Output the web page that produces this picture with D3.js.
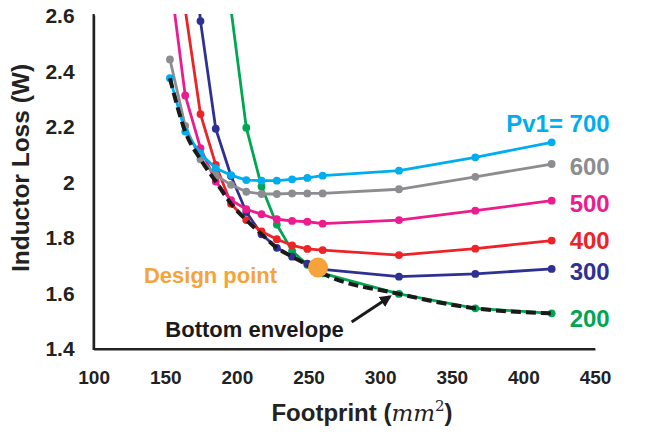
<!DOCTYPE html>
<html><head><meta charset="utf-8">
<script src="https://cdn.jsdelivr.net/npm/d3@7"></script>
<style>
body{margin:0;background:#fff}
svg{display:block}
text{font-family:"Liberation Sans",Arial,sans-serif;font-weight:bold}
</style>
</head><body>
<svg id="c" width="646" height="434"></svg>
<script>
// ---------------- data ----------------
const footprint = [150,160,170,180,190,200,210,220,230,240,250,300,350,400];
const pv700 = [2.372,2.18,2.10,2.048,2.023,2.005,2.003,2.003,2.008,2.013,2.021,2.039,2.087,2.141];
const pv600 = [2.44,2.20,2.08,2.023,1.988,1.963,1.955,1.955,1.957,1.957,1.957,1.972,2.017,2.063];
const pv500 = [2.74,2.31,2.12,2.00,1.933,1.90,1.882,1.864,1.858,1.855,1.848,1.861,1.895,1.931];
const pv400 = [null,2.62,2.243,2.06,1.92,1.861,1.82,1.792,1.77,1.757,1.753,1.735,1.758,1.787];
const pv300 = [null,3.2,2.578,2.19,2.02,1.89,1.81,1.761,1.729,1.704,1.683,1.657,1.667,1.685];
const pv200 = [null,null,null,null,2.62,2.194,1.982,1.845,1.75,1.70,1.669,1.595,1.543,1.525];
const seriesNames = ["700","600","500","400","300","200"];
const seriesValues = [pv700,pv600,pv500,pv400,pv300,pv200];
const seriesColors = ["#00AEEF","#8C8D90","#EC1C8E","#ED2327","#2E3192","#00A651"];
const designPoint = [247, 1.69];
const xTicks = [100,150,200,250,300,350,400,450];
const yTicks = [1.4,1.6,1.8,2.0,2.2,2.4,2.6];

// ---------------- scales ----------------
const svg = d3.select("#c");
const yTop = 15, yBot = 348, xLeft = 93.6;
// data scale (points in the reference are spaced wider than its tick labels)
const x = d3.scaleLinear().domain([100,450]).range([xLeft, 628]);
// tick-label scale of the printed axis
const xAxisScale = d3.scaleLinear().domain([100,450]).range([xLeft, 595]);
const y = d3.scaleLinear().domain([1.4,2.6]).range([yBot, yTop]);

svg.append("defs").append("clipPath").attr("id","plot")
  .append("rect").attr("x", xLeft).attr("y", yTop-1).attr("width", 560).attr("height", yBot-yTop+12);

// ---------------- axes ----------------
const yAxis = svg.append("g").attr("transform",`translate(${xLeft},0)`)
  .call(d3.axisLeft(y).tickValues(yTicks).tickSize(0).tickSizeOuter(0).tickPadding(19)
        .tickFormat(d => d3.format("")(+d.toFixed(1))));
yAxis.select(".domain").attr("stroke","#222").attr("stroke-width",2.2);
yAxis.selectAll("text").attr("font-size",21).attr("fill","#222").attr("dy","0.36em");

const xAxis = svg.append("g").attr("transform",`translate(0,${yBot+1})`)
  .call(d3.axisBottom(xAxisScale).tickValues(xTicks).tickSize(0).tickSizeOuter(0).tickPadding(22));
xAxis.select(".domain").attr("stroke","#222").attr("stroke-width",2.2);
xAxis.selectAll("text").attr("font-size",19).attr("fill","#222");
// corner join
svg.append("path").attr("d",`M${xLeft},${yTop-1}V${yBot+1}H${xAxisScale(450)}`)
  .attr("fill","none").attr("stroke","#222").attr("stroke-width",2.2);

// axis titles
svg.append("text").attr("transform",`translate(29,168) rotate(-90)`)
  .attr("text-anchor","middle").attr("font-size",24.5).attr("fill","#222")
  .text("Inductor Loss (W)");
const xt = svg.append("text").attr("x", 362).attr("y", 421).attr("text-anchor","middle")
  .attr("font-size",24).attr("fill","#222");
xt.append("tspan").text("Footprint (");
xt.append("tspan").attr("font-family","'DejaVu Serif',serif").attr("font-style","italic")
  .attr("font-weight","normal").attr("font-size",23).text("mm");
xt.append("tspan").attr("font-family","'DejaVu Serif',serif").attr("font-weight","normal")
  .attr("font-size",15).attr("dy",-10).text("2");
xt.append("tspan").attr("dy",10).text(")");

// ---------------- series ----------------
const plot = svg.append("g").attr("clip-path","url(#plot)");
const line = d3.line().defined(d => d[1] != null).x(d => x(d[0])).y(d => y(d[1]));
const order = [5,4,3,2,1,0];
order.forEach(i => {
  const pts = footprint.map((f,j) => [f, seriesValues[i][j]]);
  plot.append("path").datum(pts).attr("d", line).attr("fill","none")
    .attr("stroke", seriesColors[i]).attr("stroke-width",2.8).attr("stroke-linejoin","round");
  plot.selectAll(null).data(pts.filter(d => d[1] != null)).enter().append("circle")
    .attr("cx", d => x(d[0])).attr("cy", d => y(d[1])).attr("r",3.9).attr("fill", seriesColors[i]);
});

// bottom envelope = minimum over all Pv1 curves
const envelope = footprint.map((f,j) => [f, d3.min(seriesValues, s => s[j])]);
plot.append("path").datum(envelope)
  .attr("d", d3.line().curve(d3.curveMonotoneX).x(d => x(d[0])).y(d => y(d[1])))
  .attr("fill","none").attr("stroke","#1a1a1a").attr("stroke-width",4)
  .attr("stroke-dasharray","10,5");

// design point
svg.append("circle").attr("cx", x(designPoint[0])).attr("cy", y(designPoint[1]))
  .attr("r",10).attr("fill","#F5A33A");

// ---------------- annotations ----------------
svg.append("text").attr("x", x(220.2)).attr("y", y(1.633)).attr("text-anchor","end")
  .attr("font-size",22).attr("fill","#F5A33A").text("Design point");
svg.append("text").attr("x", x(147)).attr("y", y(1.44))
  .attr("font-size",22).attr("fill","#1a1a1a").text("Bottom envelope");

svg.append("defs").append("marker").attr("id","ah").attr("viewBox","0 0 10 10")
  .attr("refX",8).attr("refY",5).attr("markerWidth",4).attr("markerHeight",4)
  .attr("orient","auto").append("path").attr("d","M0,0L10,5L0,10z").attr("fill","#1a1a1a");
svg.append("line").attr("x1", x(269)).attr("y1", y(1.494)).attr("x2", x(294)).attr("y2", y(1.585))
  .attr("stroke","#1a1a1a").attr("stroke-width",3).attr("marker-end","url(#ah)");

const labelY = [2.179, 2.023, 1.890, 1.757, 1.645, 1.476];
seriesNames.forEach((n,i) => {
  svg.append("text").attr("x", x(438)).attr("y", y(labelY[i])).attr("text-anchor","end")
    .attr("font-size",24).attr("fill", seriesColors[i]).text(i === 0 ? "Pv1= " + n : n);
});
</script>
</body></html>
